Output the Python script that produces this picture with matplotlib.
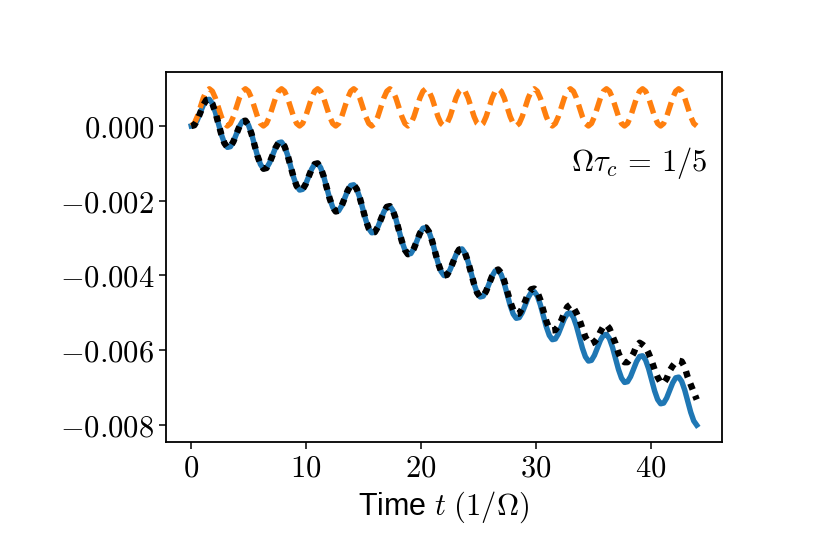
#!/usr/bin/env python
# coding:utf-8

"""
plot.py
"""

import matplotlib
matplotlib.use("Agg")
import matplotlib.pyplot as plt
from matplotlib.ticker import FuncFormatter
import numpy as np

plt.rcParams["mathtext.fontset"] = "cm"

# values in units of 1e-3, sampled every pi/12 in time (t = 0 ... 44)
blue = [
    0.000, 0.019, 0.155, 0.357, 0.559, 0.695, 0.714, 0.599, 0.369, 0.071, -0.227, -0.457,
    -0.572, -0.553, -0.417, -0.215, -0.013, 0.123, 0.142, 0.027, -0.203, -0.501, -0.799, -1.029,
    -1.144, -1.125, -0.989, -0.787, -0.585, -0.449, -0.430, -0.545, -0.775, -1.073, -1.371, -1.601,
    -1.715, -1.696, -1.560, -1.358, -1.156, -1.020, -1.001, -1.116, -1.346, -1.644, -1.942, -2.172,
    -2.287, -2.268, -2.132, -1.930, -1.728, -1.592, -1.573, -1.688, -1.918, -2.216, -2.514, -2.744,
    -2.859, -2.840, -2.704, -2.502, -2.300, -2.164, -2.145, -2.260, -2.490, -2.788, -3.086, -3.316,
    -3.431, -3.412, -3.276, -3.074, -2.872, -2.736, -2.717, -2.832, -3.062, -3.360, -3.658, -3.888,
    -4.003, -3.984, -3.848, -3.646, -3.444, -3.308, -3.289, -3.404, -3.634, -3.932, -4.230, -4.460,
    -4.574, -4.555, -4.419, -4.217, -4.015, -3.879, -3.860, -3.975, -4.205, -4.503, -4.801, -5.031,
    -5.146, -5.127, -4.991, -4.789, -4.587, -4.451, -4.432, -4.547, -4.777, -5.075, -5.373, -5.603,
    -5.718, -5.699, -5.563, -5.361, -5.159, -5.023, -5.004, -5.119, -5.349, -5.647, -5.945, -6.175,
    -6.290, -6.271, -6.135, -5.933, -5.731, -5.595, -5.576, -5.691, -5.921, -6.219, -6.517, -6.747,
    -6.862, -6.843, -6.707, -6.505, -6.303, -6.167, -6.148, -6.263, -6.493, -6.791, -7.089, -7.319,
    -7.433, -7.414, -7.278, -7.076, -6.874, -6.738, -6.719, -6.834, -7.064, -7.362, -7.660, -7.890,
    -8.005,
]

orange = [
    0.000, 0.067, 0.250, 0.500, 0.750, 0.930, 0.995, 0.930, 0.750, 0.500, 0.250, 0.067,
    0.000, 0.067, 0.250, 0.500, 0.750, 0.930, 0.995, 0.930, 0.750, 0.500, 0.250, 0.067,
    0.000, 0.067, 0.250, 0.500, 0.750, 0.930, 0.995, 0.930, 0.750, 0.500, 0.250, 0.067,
    0.000, 0.067, 0.250, 0.500, 0.750, 0.930, 0.995, 0.930, 0.750, 0.500, 0.250, 0.067,
    0.000, 0.067, 0.250, 0.500, 0.750, 0.930, 0.995, 0.930, 0.750, 0.500, 0.250, 0.067,
    0.000, 0.067, 0.250, 0.500, 0.750, 0.930, 0.995, 0.930, 0.750, 0.500, 0.250, 0.067,
    0.000, 0.067, 0.250, 0.500, 0.750, 0.930, 0.995, 0.930, 0.750, 0.500, 0.250, 0.067,
    0.000, 0.067, 0.250, 0.500, 0.750, 0.930, 0.995, 0.930, 0.750, 0.500, 0.250, 0.067,
    0.000, 0.067, 0.250, 0.500, 0.750, 0.930, 0.995, 0.930, 0.750, 0.500, 0.250, 0.067,
    0.000, 0.067, 0.250, 0.500, 0.750, 0.930, 0.995, 0.930, 0.750, 0.500, 0.250, 0.067,
    0.000, 0.067, 0.250, 0.500, 0.750, 0.930, 0.995, 0.930, 0.750, 0.500, 0.250, 0.067,
    0.000, 0.067, 0.250, 0.500, 0.750, 0.930, 0.995, 0.930, 0.750, 0.500, 0.250, 0.067,
    0.000, 0.067, 0.250, 0.500, 0.750, 0.930, 0.995, 0.930, 0.750, 0.500, 0.250, 0.067,
    0.000, 0.067, 0.250, 0.500, 0.750, 0.930, 0.995, 0.930, 0.750, 0.500, 0.250, 0.067,
    0.000,
]

# black follows blue at early times, then drifts above it (from t ~ 26.7)
black_tail = [
    -3.84, -3.93, -4.14, -4.42, -4.70, -4.92,
    -5.03, -5.02, -4.88, -4.68, -4.48, -4.37, -4.35, -4.44, -4.65, -4.93, -5.22, -5.42,
    -5.47, -5.46, -5.35, -5.20, -5.00, -4.84, -4.78, -4.86, -5.00, -5.18, -5.42, -5.65,
    -5.78, -5.82, -5.78, -5.68, -5.50, -5.36, -5.32, -5.42, -5.62, -5.82, -6.08, -6.26,
    -6.32, -6.32, -6.22, -6.08, -5.88, -5.80, -5.85, -5.92, -6.08, -6.28, -6.52, -6.72,
    -6.86, -6.88, -6.76, -6.55, -6.42, -6.32, -6.28, -6.30, -6.45, -6.72, -6.92, -7.12,
    -7.32,
]
black = blue[:len(blue) - len(black_tail)] + black_tail

xticks = [0, 10, 20, 30, 40]
yticks = [-0.008, -0.006, -0.004, -0.002, 0.000]


def main():
    t = np.arange(len(blue)) * np.pi / 12

    fig = plt.figure(figsize=(8.3, 5.54), dpi=100)
    ax = fig.add_axes([0.2, 0.2022, 0.6699, 0.6679])

    ax.plot(t, np.array(blue) * 1e-3, color="#1f77b4", lw=3.9)
    ax.plot(t, np.array(orange) * 1e-3, color="#ff7f0e", lw=3.9,
            ls="--", dashes=(2.5, 1.3))
    ax.plot(t, np.array(black) * 1e-3, color="k", lw=4.6, ls=":",
            dashes=(1.0, 1.05))

    ax.set_xticks(xticks)
    ax.set_yticks(yticks)
    ax.xaxis.set_major_formatter(FuncFormatter(lambda v, p: "$%d$" % v))
    ax.yaxis.set_major_formatter(FuncFormatter(lambda v, p: "$%.3f$" % v))
    ax.tick_params(labelsize=22, length=5, width=1.1)
    for s in ax.spines.values():
        s.set_linewidth(1.3)

    ax.set_xlabel(r"Time $t$ $(1/\Omega)$", fontsize=22,
                  family="Liberation Sans")
    ax.xaxis.set_label_coords(0.5, -0.128)
    ax.text(0.973, 0.755, r"$\Omega\tau_c\,=\,1/5$", fontsize=22,
            transform=ax.transAxes, ha="right", va="center")

    fig.savefig("out.png", dpi=100)


if __name__ == "__main__":
    main()
